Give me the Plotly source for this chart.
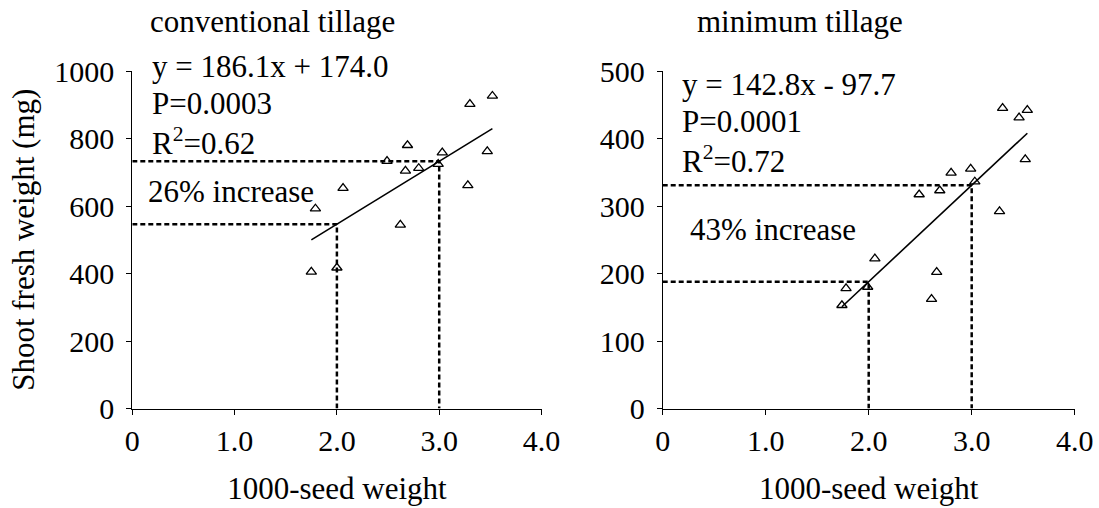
import plotly.graph_objects as go

# ---------------- data ----------------
conv_x = [1.75, 1.79, 2.00, 2.06, 2.49, 2.62, 2.67, 2.69, 2.80, 2.99, 3.03, 3.28, 3.30, 3.47, 3.52]
conv_y = [405, 592, 417, 653, 733, 544, 704, 780, 712, 724, 758, 661, 902, 762, 926]
conv_slope, conv_intercept = 186.1, 174.0

min_x = [1.74, 1.78, 1.99, 2.06, 2.49, 2.61, 2.66, 2.69, 2.80, 2.99, 3.03, 3.27, 3.30, 3.46, 3.52, 3.54]
min_y = [153, 178, 180, 222, 317, 162, 202, 323, 349, 355, 336, 292, 445, 431, 369, 442]
min_slope, min_intercept = 142.8, -97.7

ref_x = [2.0, 3.0]  # seed weights used for the "increase" guide lines

x_ticks = [0, 1, 2, 3, 4]
x_ticklabels = ["0", "1.0", "2.0", "3.0", "4.0"]
conv_yticks = [0, 200, 400, 600, 800, 1000]
min_yticks = [0, 100, 200, 300, 400, 500]

titles = ["conventional tillage", "minimum tillage"]
eq_text = [["y = 186.1x + 174.0", "P=0.0003", "R<sup>2</sup>=0.62"],
           ["y = 142.8x - 97.7", "P=0.0001", "R<sup>2</sup>=0.72"]]
incr_text = ["26% increase", "43% increase"]

# ---------------- figure ----------------
W, H = 1099, 508
FONT = "Liberation Serif"

def px(xp):
    return xp / W

def py(yp):
    return 1 - yp / H

fig = go.Figure()

panels = [
    dict(x=conv_x, y=conv_y, m=conv_slope, b=conv_intercept, xa="x", ya="y"),
    dict(x=min_x, y=min_y, m=min_slope, b=min_intercept, xa="x2", ya="y2"),
]

for p in panels:
    # scatter points
    fig.add_trace(go.Scatter(
        x=p["x"], y=p["y"], mode="markers", xaxis=p["xa"], yaxis=p["ya"],
        marker=dict(symbol="triangle-up-open", size=9, color="black",
                    line=dict(width=1.3, color="black")),
        showlegend=False, hoverinfo="x+y"))
    # regression line
    lx = [min(p["x"]), max(p["x"])]
    ly = [p["m"] * v + p["b"] for v in lx]
    fig.add_trace(go.Scatter(
        x=lx, y=ly, mode="lines", xaxis=p["xa"], yaxis=p["ya"],
        line=dict(color="black", width=1.6), showlegend=False, hoverinfo="skip"))
    # dashed guide lines
    for rx in ref_x:
        ry = p["m"] * rx + p["b"]
        fig.add_trace(go.Scatter(
            x=[0, rx, rx], y=[ry, ry, 0], mode="lines", xaxis=p["xa"], yaxis=p["ya"],
            line=dict(color="black", width=2.5, dash="5px,3px"),
            showlegend=False, hoverinfo="skip"))

axis_common = dict(
    showgrid=False, zeroline=False, showline=True, linecolor="black", linewidth=1,
    ticks="outside", ticklen=5, tickcolor="black", tickwidth=1,
    tickfont=dict(family=FONT, size=30, color="black"), automargin=False,
)

left_dom = [px(132.3), px(541.5)]
right_dom = [px(662.7), px(1074.7)]
y_dom = [py(408.5), py(71)]

fig.update_layout(
    width=W, height=H, margin=dict(l=0, r=0, t=0, b=0),
    paper_bgcolor="white", plot_bgcolor="white",
    font=dict(family=FONT, color="black"),
    xaxis=dict(domain=left_dom, range=[0, 4], tickvals=x_ticks, ticktext=x_ticklabels,
               anchor="y", title=dict(text="1000-seed weight", standoff=21,
                                      font=dict(family=FONT, size=31)), **axis_common),
    yaxis=dict(domain=y_dom, range=[0, 1000], tickvals=conv_yticks, anchor="x",
               ticklabelstandoff=6,
               title=dict(text="Shoot fresh weight (mg)", standoff=10,
                          font=dict(family=FONT, size=31)), **axis_common),
    xaxis2=dict(domain=right_dom, range=[0, 4], tickvals=x_ticks, ticktext=x_ticklabels,
                anchor="y2", title=dict(text="1000-seed weight", standoff=21,
                                        font=dict(family=FONT, size=31)), **axis_common),
    yaxis2=dict(domain=y_dom, range=[0, 500], tickvals=min_yticks, anchor="x2",
                ticklabelstandoff=6, **axis_common),
)

ann = []
# panel titles
for t, cx in zip(titles, [272, 800]):
    ann.append(dict(text=t, x=px(cx), y=py(21), xref="paper", yref="paper",
                    xanchor="center", yanchor="middle", showarrow=False,
                    font=dict(family=FONT, size=31, color="black")))
# equations
for lines, x0, ys in zip(eq_text, [150, 680], [[66, 104, 142], [84, 121, 159]]):
    for line, yy in zip(lines, ys):
        ann.append(dict(text=line, x=px(x0), y=py(yy), xref="paper", yref="paper",
                        xanchor="left", yanchor="middle", showarrow=False,
                        font=dict(family=FONT, size=31, color="black")))
# increase labels
for t, x0, yy in zip(incr_text, [146, 688], [191, 229]):
    ann.append(dict(text=t, x=px(x0), y=py(yy), xref="paper", yref="paper",
                    xanchor="left", yanchor="middle", showarrow=False,
                    font=dict(family=FONT, size=31, color="black")))

fig.update_layout(annotations=ann)
fig.write_html("out.html")
